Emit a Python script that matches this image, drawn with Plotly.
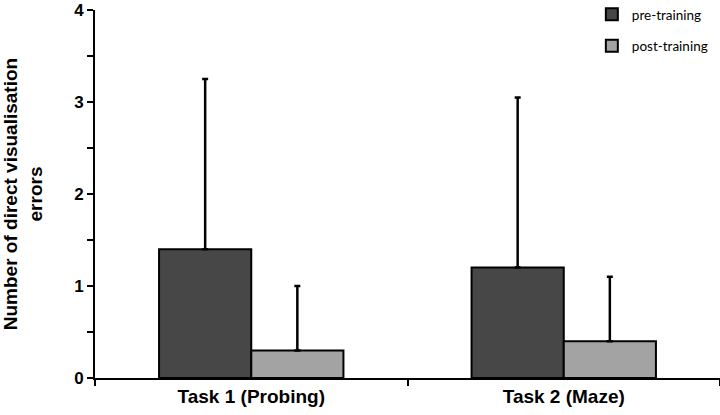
import plotly.graph_objects as go

# Data
tasks = ["Task 1 (Probing)", "Task 2 (Maze)"]
pre_mean = [1.4, 1.2]
pre_sd = [1.85, 1.85]
post_mean = [0.3, 0.4]
post_sd = [0.7, 0.7]

FONT = "Liberation Sans, Arial, sans-serif"

fig = go.Figure()

fig.add_trace(go.Bar(
    x=tasks, y=pre_mean, name="pre-training",
    marker=dict(color="#474747", line=dict(color="black", width=2)),
    error_y=dict(type="data", symmetric=False, array=pre_sd, arrayminus=[0, 0],
                 color="black", thickness=2.5, width=3),
    legendgroup="a",
))
fig.add_trace(go.Bar(
    x=tasks, y=post_mean, name="post-training",
    marker=dict(color="#a3a3a3", line=dict(color="black", width=2)),
    error_y=dict(type="data", symmetric=False, array=post_sd, arrayminus=[0, 0],
                 color="black", thickness=2.5, width=3),
    legendgroup="b",
))

fig.update_layout(
    width=720, height=415,
    margin=dict(l=95, r=0, t=10, b=37, autoexpand=False),
    plot_bgcolor="white", paper_bgcolor="white",
    barmode="group", bargap=0.41, bargroupgap=0,
    font=dict(family=FONT, color="black"),
    legend=dict(xref="container", yref="paper", x=0.822, y=1.03,
                xanchor="left", yanchor="top",
                font=dict(size=13.5, family="Lato, sans-serif"),
                traceorder="grouped", tracegroupgap=11,
                bgcolor="rgba(0,0,0,0)"),
    xaxis=dict(
        automargin=False,
        showline=True, linecolor="black", linewidth=2,
        ticks="outside", tickson="boundaries", ticklen=6, tickwidth=2, tickcolor="black",
        tickfont=dict(size=19, family=FONT, weight="bold"),
    ),
    yaxis=dict(
        automargin=False, ticklabeloverflow="allow",
        range=[0, 4], tickvals=[0, 1, 2, 3, 4],
        showline=True, linecolor="black", linewidth=2,
        ticks="outside", ticklen=6, tickwidth=2, tickcolor="black",
        minor=dict(dtick=0.5, ticks="outside", ticklen=6, tickwidth=2, tickcolor="black"),
        showgrid=False, zeroline=False,
        tickfont=dict(size=17, family=FONT, weight="bold"),
        title=dict(text="Number of direct visualisation<br>errors",
                   font=dict(size=19, family=FONT, weight="bold"), standoff=44),
    ),
)

# drop the default 8px page margin so the 720x415 figure fills the window
fig.write_html("out.html", config={"displayModeBar": False},
               post_script="document.body.style.margin = '0';")
